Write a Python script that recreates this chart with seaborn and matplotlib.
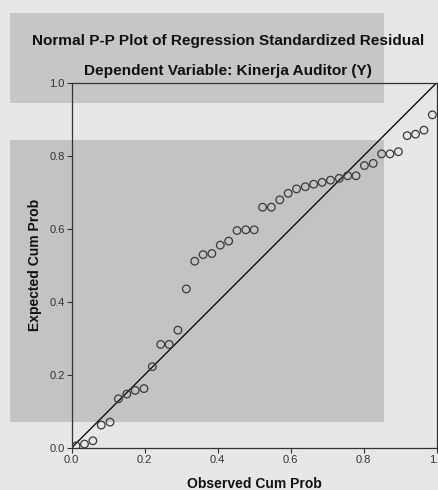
import matplotlib
matplotlib.use("Agg")
import matplotlib.pyplot as plt
import seaborn as sns
import pandas as pd
from matplotlib.patches import Rectangle

# Observed vs expected cumulative probabilities
observed_cum_prob = [0.012, 0.035, 0.058, 0.081, 0.105, 0.128, 0.151, 0.174, 0.198,
                     0.221, 0.244, 0.267, 0.291, 0.314, 0.337, 0.360, 0.384, 0.407,
                     0.430, 0.453, 0.477, 0.500, 0.523, 0.547, 0.570, 0.593, 0.616,
                     0.640, 0.663, 0.686, 0.709, 0.733, 0.756, 0.779, 0.802, 0.826,
                     0.849, 0.872, 0.895, 0.919, 0.942, 0.965, 0.988]
expected_cum_prob = [0.005, 0.010, 0.019, 0.062, 0.070, 0.134, 0.147, 0.157, 0.162,
                     0.222, 0.283, 0.283, 0.322, 0.435, 0.511, 0.529, 0.532, 0.555,
                     0.566, 0.595, 0.597, 0.597, 0.659, 0.659, 0.679, 0.697, 0.709,
                     0.715, 0.722, 0.727, 0.733, 0.738, 0.745, 0.745, 0.773, 0.779,
                     0.805, 0.805, 0.811, 0.855, 0.859, 0.870, 0.912]
ref_line = [0.0, 1.0]
ticks = [0.0, 0.2, 0.4, 0.6, 0.8, 1.0]

df = pd.DataFrame({"Observed": observed_cum_prob, "Expected": expected_cum_prob})

sns.set_theme(style="white")
plt.rcParams["font.family"] = ["Liberation Sans", "DejaVu Sans"]

fig = plt.figure(figsize=(4.39, 4.90), dpi=100)
fig.patch.set_facecolor("#e7e7e7")

# grey screenshot overlays behind everything
fig.patches.append(Rectangle((0.023, 0.790), 0.852, 0.184, transform=fig.transFigure,
                             facecolor="#c6c6c6", edgecolor="none", zorder=-5))
fig.patches.append(Rectangle((0.023, 0.139), 0.852, 0.576, transform=fig.transFigure,
                             facecolor="#c3c3c3", edgecolor="none", zorder=-5))

ax = fig.add_axes([0.1633, 0.0863, 0.8315, 0.7449])
ax.patch.set_alpha(0)

sns.lineplot(x=ref_line, y=ref_line, ax=ax, color="#111111", linewidth=1.0)
sns.scatterplot(data=df, x="Observed", y="Expected", ax=ax, s=30,
                facecolor="none", edgecolor="#3a3a3a", linewidth=0.9, zorder=3)

ax.set_xlim(0, 1)
ax.set_ylim(0, 1)
ax.set_xticks(ticks)
ax.set_yticks(ticks)
ax.set_xticklabels([f"{t:.1f}" for t in ticks])
ax.set_yticklabels([f"{t:.1f}" for t in ticks])
ax.tick_params(axis="both", direction="out", length=3.5, width=0.8, color="#333333",
               labelsize=8, labelcolor="#333333", pad=1.5, bottom=True, left=True)

for side in ["left", "bottom", "top", "right"]:
    ax.spines[side].set_visible(True)
    ax.spines[side].set_color("#333333")
    ax.spines[side].set_linewidth(0.9)

ax.set_xlabel("Observed Cum Prob", fontsize=10, fontweight="bold", color="#111111", labelpad=9)
ax.set_ylabel("Expected Cum Prob", fontsize=10, fontweight="bold", color="#111111", labelpad=5)

fig.text(0.52, 0.917, "Normal P-P Plot of Regression Standardized Residual",
         ha="center", va="center", fontsize=11.1, fontweight="bold", color="#111111")
fig.text(0.52, 0.856, "Dependent Variable: Kinerja Auditor (Y)",
         ha="center", va="center", fontsize=11.1, fontweight="bold", color="#111111")

fig.savefig("out.png", dpi=100, facecolor=fig.get_facecolor())
